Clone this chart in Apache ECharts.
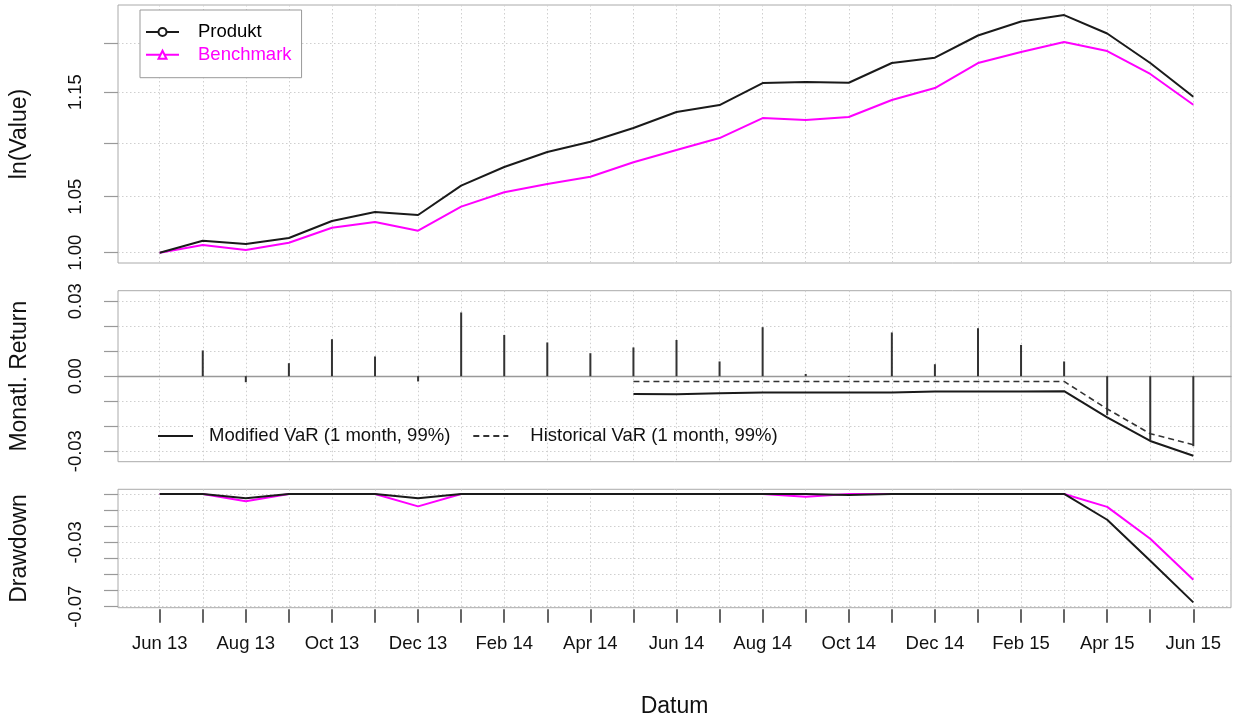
<!DOCTYPE html>
<html><head><meta charset="utf-8">
<script src="https://cdn.jsdelivr.net/npm/echarts@6/dist/echarts.min.js"></script>
<style>html,body{margin:0;padding:0;background:#fff}#c{width:1234px;height:721px}</style>
</head><body><div id="c"></div><script>
// ---- data ----
const months = ['Jun 13','Jul 13','Aug 13','Sep 13','Oct 13','Nov 13','Dec 13','Jan 14','Feb 14','Mar 14','Apr 14','May 14',
  'Jun 14','Jul 14','Aug 14','Sep 14','Oct 14','Nov 14','Dec 14','Jan 15','Feb 15','Mar 15','Apr 15','May 15','Jun 15'];
const monthLabels = ['Jun 13','Aug 13','Oct 13','Dec 13','Feb 14','Apr 14','Jun 14','Aug 14','Oct 14','Dec 14','Feb 15','Apr 15','Jun 15'];

const produktValue = [1.0000,1.0105,1.0076,1.0129,1.0280,1.0361,1.0334,1.0601,1.0775,1.0916,1.1015,1.1147,
  1.1303,1.1372,1.1592,1.1602,1.1595,1.1796,1.1851,1.2082,1.2230,1.2299,1.2103,1.1796,1.1455];
const benchmarkValue = [1.0000,1.0067,1.0024,1.0087,1.0220,1.0271,1.0193,1.0409,1.0540,1.0617,1.0684,1.0819,
  1.0935,1.1050,1.1244,1.1225,1.1254,1.1422,1.1542,1.1796,1.1910,1.2014,1.1920,1.1684,1.1375];

const monthlyReturn = [null,0.0103,-0.0024,0.0052,0.0148,0.0079,-0.0021,0.0255,0.0165,0.0135,0.0092,0.0115,
  0.0145,0.0059,0.0196,0.0009,-0.0003,0.0175,0.0048,0.0192,0.0125,0.0059,-0.0155,-0.0255,-0.0280];
const modifiedVaR = [null,null,null,null,null,null,null,null,null,null,null,-0.0071,
  -0.0072,-0.0068,-0.0065,-0.0065,-0.0065,-0.0065,-0.0061,-0.0061,-0.0061,-0.0060,-0.0165,-0.0259,-0.0318];
const historicalVaR = [null,null,null,null,null,null,null,null,null,null,null,-0.0021,
  -0.0021,-0.0021,-0.0021,-0.0021,-0.0021,-0.0021,-0.0021,-0.0021,-0.0021,-0.0021,-0.0131,-0.0230,-0.0274];

const produktDrawdown = [0,0,-0.0027,0,0,0,-0.0026,0,0,0,0,0,0,0,0,0,-0.0006,0,0,0,0,0,-0.0160,-0.0415,-0.0673];
const benchmarkDrawdown = [0,0,-0.0045,0,0,0,-0.0077,0,0,0,0,0,0,0,0,-0.0017,0,0,0,0,0,0,-0.0080,-0.0278,-0.0533];

const valueTicks = [1.00,1.05,1.10,1.15,1.20];
const valueTickLabels = [1.00,1.05,1.15];
const returnTicks = [-0.03,-0.02,-0.01,0,0.01,0.02,0.03];
const returnTickLabels = [-0.03,0,0.03];
const drawdownTicks = [0,-0.01,-0.02,-0.03,-0.04,-0.05,-0.06,-0.07];
const drawdownTickLabels = [-0.03,-0.07];

// ---- chart ----
const FONT = '"Liberation Sans", Arial, Helvetica, sans-serif';
const TXT = '#111';
const FS = 18.5;
const idx = months.map((m, i) => i);
const labelIdx = monthLabels.map(l => months.indexOf(l));
const pairs = (arr, f) => arr.map((v, i) => [i, v]).filter(p => p[1] != null).map(p => [p[0], f ? f(p[1]) : p[1]]);

const grid = { left: 117, width: 1114, show: true, borderColor: '#aaaaaa', borderWidth: 1, backgroundColor: 'transparent' };
const gridLine = { show: true, lineStyle: { color: '#cfcfcf', type: [1.5, 2.5], width: 1 } };
const X_MIN = -0.968, X_MAX = 24.875;

function xAxis(g) {
  const bottom = g === 2;
  return {
    type: 'value', gridIndex: g, min: X_MIN, max: X_MAX,
    axisLine: { show: g === 1, onZero: g === 1, lineStyle: { color: '#999', width: 1.3 } },
    axisTick: { show: bottom, customValues: idx, length: 13.5, lineStyle: { color: '#333', width: 1.5 } },
    axisLabel: { show: bottom, customValues: labelIdx, formatter: v => months[Math.round(v)],
      margin: 25, fontSize: FS, color: TXT, fontFamily: FONT },
    splitLine: gridLine,
    offset: bottom ? 1.5 : 0,
    name: bottom ? 'Datum' : '', nameLocation: 'middle', nameGap: 86,
    nameTextStyle: { fontSize: 23, color: TXT, fontFamily: FONT }
  };
}
function yAxis(g, min, max, ticks, labels, fmt, name) {
  return {
    type: 'value', gridIndex: g, min: min, max: max,
    axisLine: { show: false, onZero: false },
    axisTick: { show: true, customValues: ticks, length: 14, lineStyle: { color: '#999', width: 1.2 } },
    axisLabel: { customValues: labels, formatter: fmt, rotate: 90, margin: 33, fontSize: FS, color: TXT, fontFamily: FONT },
    splitLine: gridLine,
    name: name, nameLocation: 'middle', nameGap: 87,
    nameTextStyle: { fontSize: 23, color: TXT, fontFamily: FONT }
  };
}

const option = {
  animation: false,
  backgroundColor: '#fff',
  textStyle: { fontFamily: FONT },
  grid: [
    Object.assign({ top: 5, height: 258 }, grid),
    Object.assign({ top: 290.7, height: 171 }, grid),
    Object.assign({ top: 489.3, height: 118.4 }, grid)
  ],
  xAxis: [xAxis(0), xAxis(1), xAxis(2)],
  yAxis: [
    yAxis(0, -0.00897, 0.2157, valueTicks.map(Math.log), valueTickLabels.map(Math.log), v => Math.exp(v).toFixed(2), 'ln(Value)'),
    yAxis(1, -0.0342, 0.0342, returnTicks, returnTickLabels, v => v.toFixed(2), 'Monatl. Return'),
    yAxis(2, -0.0706, 0.0029, drawdownTicks, drawdownTickLabels, v => v.toFixed(2), 'Drawdown')
  ],
  legend: [
    {
      data: [{ name: 'Produkt', textStyle: { color: '#000' } }, { name: 'Benchmark', textStyle: { color: '#ff00ff' } }],
      orient: 'vertical', left: 140, top: 10, itemWidth: 33, itemHeight: 10, itemGap: 2.7,
      padding: [12, 10, 13, 5], borderColor: '#999', borderWidth: 1, backgroundColor: '#fff',
      selectedMode: false,
      textStyle: { fontSize: FS, fontFamily: FONT, padding: [0, 0, 0, 14], lineHeight: 20 }
    },
    {
      data: ['Modified VaR (1 month, 99%)',
             { name: 'Historical VaR (1 month, 99%)', textStyle: { padding: [0, 0, 0, 17] } }],
      orient: 'horizontal', left: 157, top: 426, itemWidth: 35, itemHeight: 10, itemGap: 22,
      padding: 0, selectedMode: false, itemStyle: { opacity: 0 },
      textStyle: { fontSize: FS, fontFamily: FONT, color: TXT, padding: [0, 0, 0, 11], lineHeight: 20 }
    }
  ],
  series: [
    { name: 'Produkt', type: 'line', xAxisIndex: 0, yAxisIndex: 0, data: pairs(produktValue, Math.log),
      symbol: 'emptyCircle', showSymbol: false, color: '#1a1a1a', lineStyle: { width: 2, color: '#1a1a1a' }, z: 4 },
    { name: 'Benchmark', type: 'line', xAxisIndex: 0, yAxisIndex: 0, data: pairs(benchmarkValue, Math.log),
      symbol: 'emptyTriangle', showSymbol: false, color: '#ff00ff', lineStyle: { width: 2, color: '#ff00ff' }, z: 3 },
    { name: 'Monatl. Return', type: 'bar', xAxisIndex: 1, yAxisIndex: 1, data: pairs(monthlyReturn),
      barWidth: 2, itemStyle: { color: '#333' }, z: 3 },
    { name: 'Modified VaR (1 month, 99%)', type: 'line', xAxisIndex: 1, yAxisIndex: 1, data: pairs(modifiedVaR),
      symbol: 'none', color: '#1a1a1a', lineStyle: { width: 2, color: '#1a1a1a', type: 'solid' }, z: 4 },
    { name: 'Historical VaR (1 month, 99%)', type: 'line', xAxisIndex: 1, yAxisIndex: 1, data: pairs(historicalVaR),
      symbol: 'none', color: '#333', lineStyle: { width: 1.6, color: '#333', type: [6, 4] }, z: 4 },
    { name: 'Benchmark', type: 'line', xAxisIndex: 2, yAxisIndex: 2, data: pairs(benchmarkDrawdown),
      symbol: 'emptyTriangle', showSymbol: false, color: '#ff00ff', lineStyle: { width: 2, color: '#ff00ff' }, z: 3 },
    { name: 'Produkt', type: 'line', xAxisIndex: 2, yAxisIndex: 2, data: pairs(produktDrawdown),
      symbol: 'emptyCircle', showSymbol: false, color: '#1a1a1a', lineStyle: { width: 2, color: '#1a1a1a' }, z: 4 }
  ]
};
const chart = echarts.init(document.getElementById('c'));
chart.setOption(option);
</script></body></html>
